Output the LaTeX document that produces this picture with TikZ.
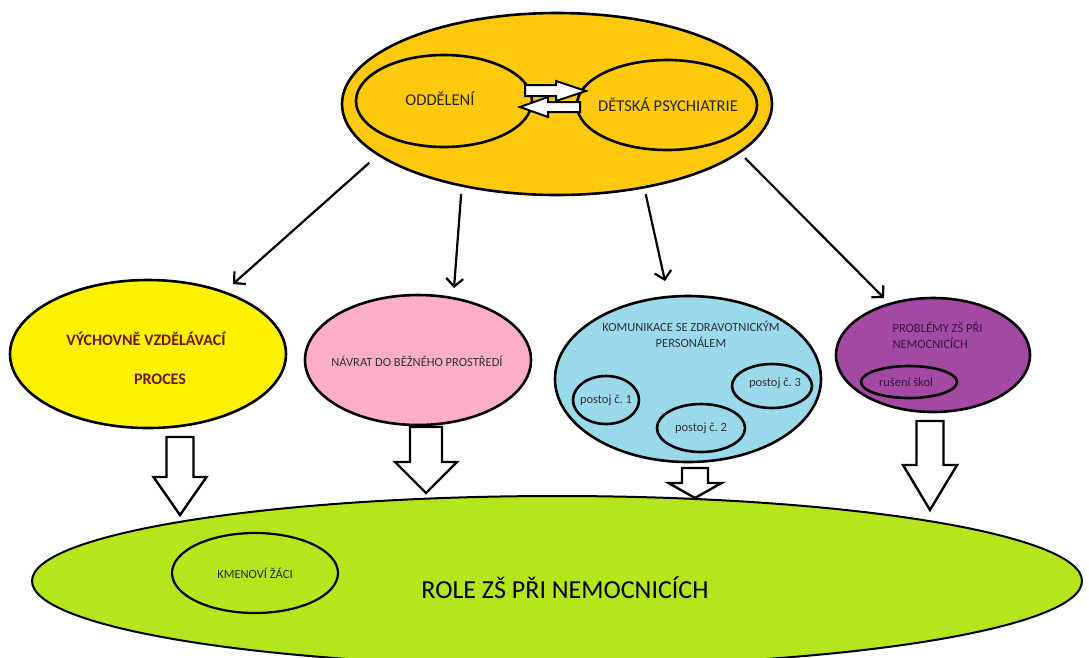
\documentclass[tikz,border=0pt]{standalone}
\usepackage{fontspec}
\setmainfont{Carlito}
\usetikzlibrary{shapes.geometric,arrows.meta}
\frenchspacing

% hollow down arrow: x, top, head base, tip, half shaft, half head
\newcommand{\blockarrow}[6]{%
  \draw[hollow] (#1-#5,#2) -- (#1+#5,#2) -- (#1+#5,#3) -- (#1+#6,#3)
    -- (#1,#4) -- (#1-#6,#3) -- (#1-#5,#3) -- cycle;}

\begin{document}
\begin{tikzpicture}[
    x=1pt, y=-1pt, % one unit = one pixel of the sketch
    >={Straight Barb[length=8pt,width=17pt]},
    line join=miter,
    blob/.style={ellipse, draw, line width=2.6pt, inner sep=0pt},
    pointer/.style={->, line width=2.2pt},
    hollow/.style={draw, fill=white, line width=2.4pt},
    small text/.style={font=\fontsize{12.5}{16}\selectfont, text=black!80}
]

% --- 1. SETTINGS & COLORS ---
\definecolor{topgold}{RGB}{255,201,14}
\definecolor{eduyellow}{RGB}{255,242,0}
\definecolor{edured}{RGB}{112,24,24}
\definecolor{backpink}{RGB}{255,174,201}
\definecolor{staffblue}{RGB}{153,217,234}
\definecolor{probpurple}{RGB}{163,73,164}
\definecolor{probtext}{RGB}{55,20,60}
\definecolor{rolegreen}{RGB}{181,230,29}

\useasboundingbox (0,0) rectangle (1089,657);

% --- 2. BOTTOM (ROLE) ---
\node[blob, line width=2pt, fill=rolegreen, minimum width=1050, minimum height=170] (role) at (557,581) {};
\node[font=\fontsize{26}{30}\selectfont] (roletext) at (565,588) {ROLE ZŠ PŘI NEMOCNICÍCH};
\node[blob, line width=2.2pt, minimum width=166, minimum height=80] (pupils) at (255,573) {};
\node[small text, text=black!85] (pupilstext) at (pupils) {KMENOVÍ ŽÁCI};

% --- 3. TOP (WARD + PSYCHIATRY) ---
\node[blob, fill=topgold, minimum width=430, minimum height=182] (dept) at (557,104) {};
\node[blob, minimum width=176, minimum height=92] (ward) at (444,101) {};
\node[font=\fontsize{16.5}{20}\selectfont, text=black!85] (wardtext) at (440,99) {ODDĚLENÍ};
\node[blob, minimum width=180, minimum height=90] (psych) at (667,105) {};
\node[font=\fontsize{16.5}{20}\selectfont, text=black!85] (psychtext) at (668,105) {DĚTSKÁ PSYCHIATRIE};

% two way block arrows
\draw[hollow, line width=2pt] (525,85) -- (556,85) -- (556,81) -- (586,91) -- (556,101) -- (556,96) -- (525,96) -- cycle;
\draw[hollow, line width=2pt] (580,102) -- (548,102) -- (548,97) -- (520,107) -- (548,117) -- (548,112) -- (580,112) -- cycle;

% --- 4. SECOND ROW ---
% education
\node[blob, fill=eduyellow, minimum width=276, minimum height=148] (edu) at (148,354) {};
\node[font=\bfseries\fontsize{16}{18}\selectfont, text=edured] (edutext) at (146,339) {VÝCHOVNĚ VZDĚLÁVACÍ};
\node[font=\bfseries\fontsize{16}{18}\selectfont, text=edured] (edutext2) at (160,379) {PROCES};

% return
\node[blob, fill=backpink, minimum width=226, minimum height=130] (back) at (418,360) {};
\node[small text] (backtext) at (417,361) {NÁVRAT DO BĚŽNÉHO PROSTŘEDÍ};

% staff
\node[blob, fill=staffblue, minimum width=266, minimum height=166] (staff) at (688,379) {};
\node[small text, align=center] (stafftext) at (691,334) {KOMUNIKACE SE ZDRAVOTNICKÝM\\PERSONÁLEM};
\node[blob, minimum width=66, minimum height=48] (att1) at (606,400) {};
\node[small text] (att1text) at (att1) {postoj č. 1};
\node[blob, minimum width=88, minimum height=48] (att2) at (701,428) {};
\node[small text] (att2text) at (att2) {postoj č. 2};
\node[blob, minimum width=80, minimum height=44] (att3) at (772,386) {};
\node[small text] (att3text) at (775,383) {postoj č. 3};

% problems
\node[blob, fill=probpurple, minimum width=194, minimum height=114] (prob) at (933,355) {};
\node[small text, text=probtext, align=left, anchor=west] (probtext) at (889,335) {PROBLÉMY ZŠ PŘI\\NEMOCNICÍCH};
\node[blob, minimum width=96, minimum height=32] (closing) at (909,382) {};
\node[small text, text=probtext] (closingtext) at (906,382) {rušení škol};

% --- 5. POINTERS ---
\coordinate (tipedu) at (233,284);
\coordinate (tipback) at (454,288);
\coordinate (tipstaff) at (665,281);
\coordinate (tipprob) at (884,298);
\draw[pointer, shorten <=11pt] (dept.196.5) -- (tipedu);
\draw[pointer, shorten <=7pt] (dept.221.3) -- (tipback);
\draw[pointer, shorten <=6pt] (dept.316.2) -- (tipstaff);
\draw[pointer, shorten <=7pt] (dept.345.3) -- (tipprob);

% --- 6. BLOCK ARROWS INTO ROLE ---
\blockarrow{180}{437}{477}{515}{13.5}{26.5}
\blockarrow{426}{427}{462}{493}{16}{31}
\blockarrow{695}{468}{483}{498}{13}{26.5}
\blockarrow{930}{421}{465}{510}{13.5}{27}

\end{tikzpicture}
\end{document}
